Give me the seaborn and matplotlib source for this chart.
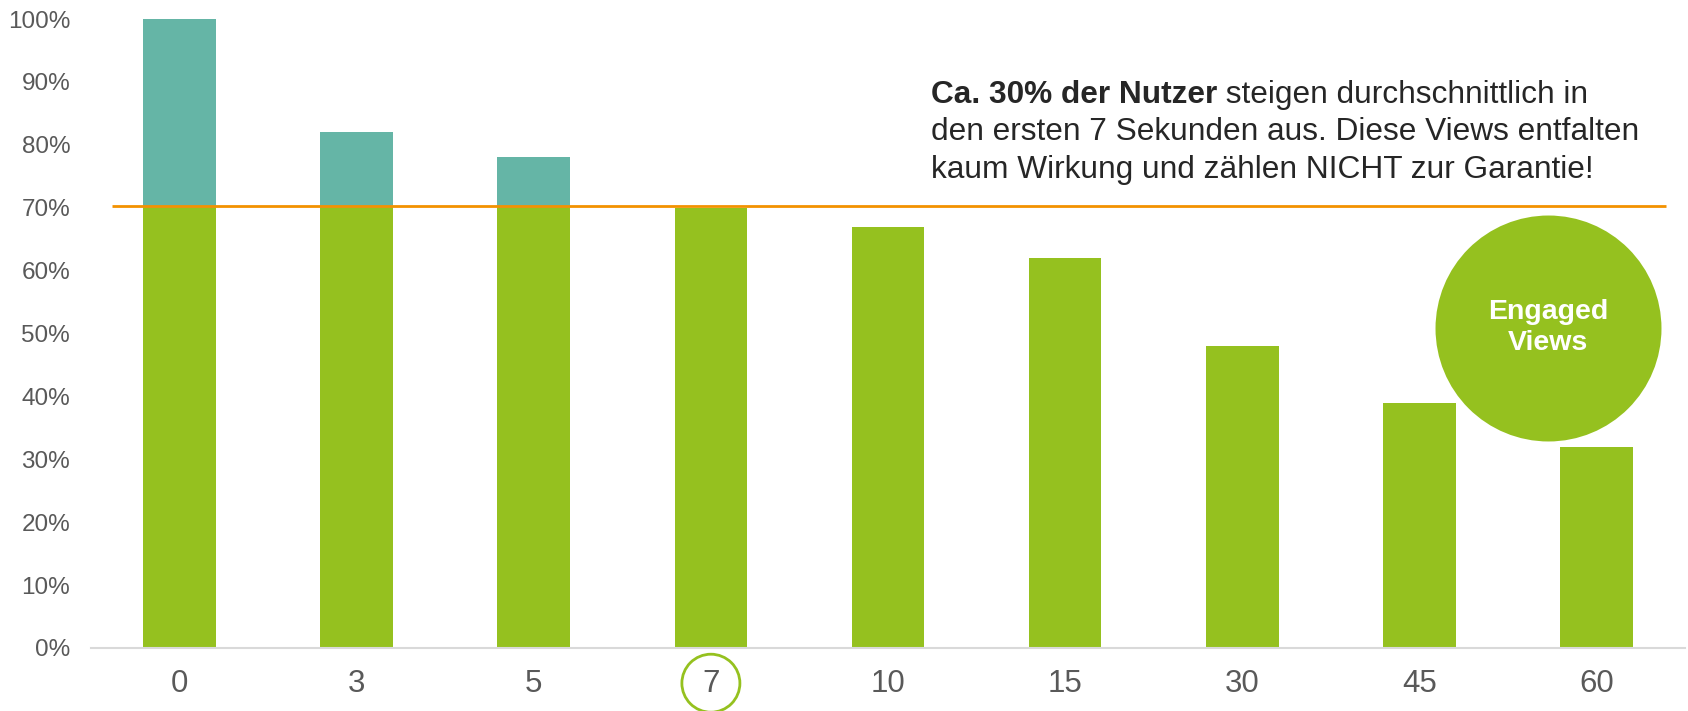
import matplotlib
matplotlib.use("Agg")
import matplotlib.pyplot as plt
import numpy as np
import seaborn as sns

# retention per second mark
seconds = ["0", "3", "5", "7", "10", "15", "30", "45", "60"]
retention = [1.00, 0.82, 0.78, 0.70, 0.67, 0.62, 0.48, 0.39, 0.32]
threshold = 0.70
marked_second = "7"
yticks = [0, 0.1, 0.2, 0.3, 0.4, 0.5, 0.6, 0.7, 0.8, 0.9, 1.0]

green = '#95C11F'
teal = '#65B5A6'
orange = '#F39200'
grey = '#595959'
dark = '#262626'

sns.set_style("white")
plt.rcParams['font.family'] = ['Liberation Sans', 'DejaVu Sans']

fig = plt.figure(figsize=(16.88, 7.11), dpi=100)
ax = fig.add_axes([91/1688, 63/711, 1594/1688, 629/711])

engaged = np.minimum(retention, threshold)
sns.barplot(x=seconds, y=retention, order=seconds, color=teal, saturation=1,
            width=0.41, linewidth=0, ax=ax)
sns.barplot(x=seconds, y=engaged, order=seconds, color=green, saturation=1,
            width=0.41, linewidth=0, ax=ax)

ax.set_xlim(-0.5, len(seconds) - 0.5)
ax.set_ylim(0, 1)
ax.set_yticks(yticks)
ax.set_yticklabels([f"{int(round(t*100))}%" for t in yticks])
ax.tick_params(axis='y', length=0, pad=15, labelsize=17.5, labelcolor=grey)
ax.tick_params(axis='x', length=0, pad=15, labelsize=22.5, labelcolor=grey)
ax.set_xlabel("")
ax.set_ylabel("")
for s in ['left', 'right', 'top']:
    ax.spines[s].set_visible(False)
ax.spines['bottom'].set_color('#D9D9D9')
ax.spines['bottom'].set_linewidth(1.5)

# threshold line
ax.hlines(threshold + 0.002, -0.38, 8.39, color=orange, lw=2, zorder=5)

# ring around the 7 second label
i7 = seconds.index(marked_second)
ax.scatter([i7], [-0.056], s=1745, facecolor='none', edgecolor=green,
           linewidth=2, clip_on=False, zorder=6)

# engaged views bubble
ax.scatter([0.914], [0.5095], s=26470, color=green, transform=ax.transAxes,
           clip_on=False, zorder=7, linewidth=0)
ax.text(0.914, 0.5095, "Engaged\nViews", transform=ax.transAxes, ha='center',
        va='center', color='white', fontsize=20.5, fontweight='bold',
        linespacing=1.25, zorder=8)

# note
x0 = 931/1688
fs = 22.8
t1 = fig.text(x0, 1 - 103/711, "Ca. 30% der Nutzer", fontsize=fs,
              fontweight='bold', color=dark, va='baseline')
ax.annotate(" steigen durchschnittlich in", xy=(1, 0), xycoords=t1,
            va='bottom', ha='left', fontsize=fs, color=dark)
fig.text(x0, 1 - 140.5/711, "den ersten 7 Sekunden aus. Diese Views entfalten",
         fontsize=fs, color=dark, va='baseline')
fig.text(x0, 1 - 178/711, "kaum Wirkung und zählen NICHT zur Garantie!",
         fontsize=fs, color=dark, va='baseline')

fig.savefig("out.png", dpi=100)
